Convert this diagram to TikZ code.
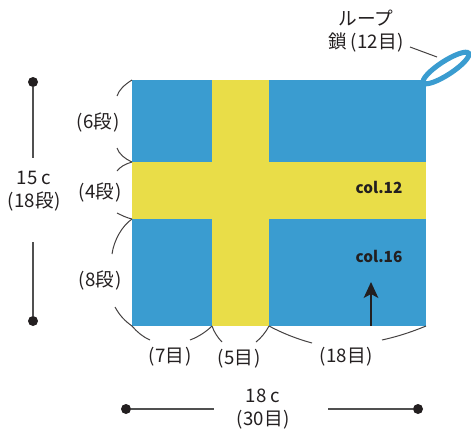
\documentclass[tikz,border=0pt]{standalone}
\usepackage{fontspec}
\usepackage{xcolor}
\usetikzlibrary{arrows.meta}
\newfontfamily\jp{Noto Sans CJK JP}
\definecolor{flagblue}{RGB}{58,156,208}
\definecolor{flagyellow}{RGB}{233,221,72}
\definecolor{ink}{RGB}{35,31,32}
\definecolor{dimgrey}{RGB}{80,80,80}

% proportional brackets
\newcommand{\kakko}[1]{(\kern.03em#1\kern.03em)}

\tikzset{
  lbl/.style={inner sep=0.75pt,text=ink,font=\jp\fontsize{14}{17}\selectfont},
  collbl/.style={inner sep=0.75pt,text=ink,font=\jp\bfseries\fontsize{11.5}{14}\selectfont},
  dimdot/.style={circle,fill=ink,inner sep=0pt,minimum size=7.5pt},
  dimline/.style={draw=dimgrey,line width=0.9pt},
  brace/.style={draw=ink!85,line width=0.75pt}
}

\begin{document}
\begin{tikzpicture}[x=0.75pt,y=0.75pt,yscale=-1,xscale=1]
\useasboundingbox (0,0) rectangle (471,432);

% flag
\fill[flagblue] (132,80) rectangle (426,326);
\fill[flagyellow] (212,80) rectangle (269,326);
\fill[flagyellow] (132,162) rectangle (426,219);

% loop
\draw[flagblue,line width=3.8pt,rotate around={-33:(446,68)}] (446,68) ellipse (27 and 6.8);

\node[lbl,align=center] (looplbl) at (366,31) {ループ\\鎖\kern.2em\kakko{12目}};
\coordinate (loopa) at (410,47);
\coordinate (loopb) at (437,57);
\draw[brace] (loopa) -- (loopb);

% row labels
\node[lbl] (row6) at (98,122) {\kakko{6段}};
\node[lbl] (row4) at (100,192) {\kakko{4段}};
\node[lbl] (row8) at (100,280) {\kakko{8段}};

\draw[brace] (132,80) .. controls (124,85) and (119,90) .. (117,96);
\draw[brace] (117,148) .. controls (119,154) and (125,159) .. (132,162);
\draw[brace] (132,162) .. controls (125,164) and (120,167) .. (117,171);
\draw[brace] (117,213) .. controls (121,215) and (127,218) .. (132,219);
\draw[brace] (132,219) .. controls (122,226) and (114,240) .. (112,254);
\draw[brace] (115,307) .. controls (120,316) and (125,321) .. (132,326);

% stitch labels
\node[lbl] (st7) at (170,357) {\kakko{7目}};
\node[lbl] (st5) at (239,359) {\kakko{5目}};
\node[lbl] (st18) at (346,357) {\kakko{18目}};

\draw[brace] (132,326) .. controls (137,332) and (143,337) .. (150,340);
\draw[brace] (190,340) .. controls (198,337) and (206,332) .. (212,326);
\draw[brace] (212,326) .. controls (214,332) and (218,338) .. (222,342);
\draw[brace] (256,342) .. controls (261,338) and (266,332) .. (269,326);
\draw[brace] (269,326) .. controls (282,333) and (297,339) .. (312,343);
\draw[brace] (382,340) .. controls (400,336) and (414,331) .. (426,326);

% colour labels
\node[collbl] (col12) at (379,187) {col.12};
\node[collbl] (col16) at (379,256) {col.16};
\coordinate (arrowfoot) at (371,326);
\coordinate (arrowtip) at (371,282);
\draw[ink,line width=1pt,-{Stealth[length=12pt,width=11pt,inset=3pt]}] (arrowfoot) -- (arrowtip);

% height
\node[dimdot] (htop) at (33,82) {};
\node[dimdot] (hbot) at (33,321) {};
\node[lbl,align=center] (hdim) at (34,191) {15 c\\\kakko{18段}};
\coordinate (hgapa) at (33,158);
\coordinate (hgapb) at (33,242);
\draw[dimline] (htop) -- (hgapa);
\draw[dimline] (hgapb) -- (hbot);

% width
\node[dimdot] (wleft) at (126,409) {};
\node[dimdot] (wright) at (418,409) {};
\node[lbl,align=center] (wdim) at (263,409) {18 c\\\kakko{30目}};
\coordinate (wgapa) at (214,409);
\coordinate (wgapb) at (328,409);
\draw[dimline] (wleft) -- (wgapa);
\draw[dimline] (wgapb) -- (wright);

\end{tikzpicture}
\end{document}
